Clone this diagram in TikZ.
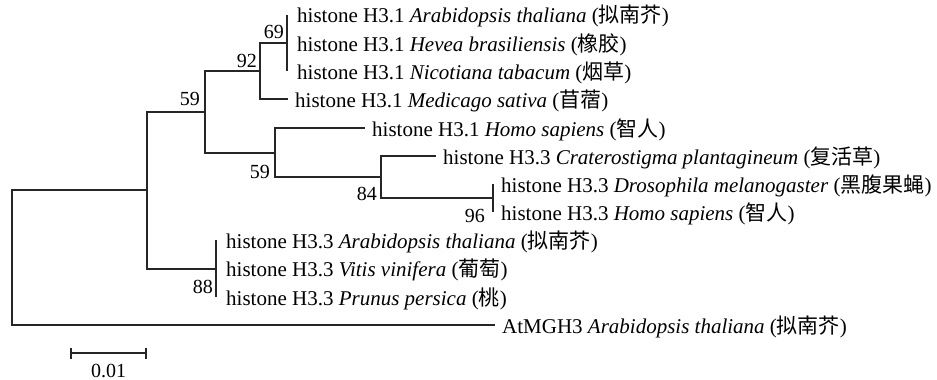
\documentclass[tikz,border=0pt]{standalone}
\usepackage{fontspec}
\setmainfont{Liberation Serif}
\newfontfamily\cjk{Noto Sans CJK SC}
\begin{document}
\begin{tikzpicture}[x=1pt,y=-1pt,
  br/.style={line width=2pt, draw=black!85, line cap=rect},
  zl/.style={line width=1.5pt, draw=black!85},
  leaf/.style={anchor=west, inner xsep=8pt, inner ysep=0pt, text height=20pt, text depth=4pt, font=\fontsize{21}{25}\selectfont},
  leafz/.style={leaf, inner xsep=10pt},
  bs/.style={anchor=base east, inner sep=0pt, font=\fontsize{20}{24}\selectfont}]
\useasboundingbox (0,0) rectangle (937,380);

% leaves
\node[leafz] (L1) at (287,15) {histone H3.1 \textit{Arabidopsis thaliana} ({\cjk 拟南芥})};
\node[leafz] (L2) at (287,43) {histone H3.1 \textit{Hevea brasiliensis} ({\cjk 橡胶})};
\node[leafz] (L3) at (287,71) {histone H3.1 \textit{Nicotiana tabacum} ({\cjk 烟草})};
\node[leaf] (L4) at (287,99) {histone H3.1 \textit{Medicago sativa} ({\cjk 苜蓿})};
\node[leaf] (L5) at (364,128) {histone H3.1 \textit{Homo sapiens} ({\cjk 智人})};
\node[leaf] (L6) at (435,156) {histone H3.3 \textit{Craterostigma plantagineum} ({\cjk 复活草})};
\node[leaf] (L7) at (493,184) {histone H3.3 \textit{Drosophila melanogaster} ({\cjk 黑腹果蝇})};
\node[leaf] (L8) at (493,212) {histone H3.3 \textit{Homo sapiens} ({\cjk 智人})};
\node[leafz] (L9) at (216,240) {histone H3.3 \textit{Arabidopsis thaliana} ({\cjk 拟南芥})};
\node[leafz] (L10) at (216,268.5) {histone H3.3 \textit{Vitis vinifera} ({\cjk 葡萄})};
\node[leafz] (L11) at (216,297) {histone H3.3 \textit{Prunus persica} ({\cjk 桃})};
\node[leaf] (L12) at (494,325) {AtMGH3 \textit{Arabidopsis thaliana} ({\cjk 拟南芥})};

% internal nodes
\coordinate (n69) at (287,43);
\coordinate (n92) at (260,71);
\coordinate (n96) at (493,198);
\coordinate (n84) at (381,177);
\coordinate (n59b) at (275,152.5);
\coordinate (nB) at (205,111.75);
\coordinate (n88) at (216,268.5);
\coordinate (nA) at (147,190.1);
\coordinate (root) at (12,257.6);

% branches
\draw[zl] (L1.west) -- (L3.west);
\draw[zl] (L7.west) -- (L8.west);
\draw[zl] (L9.west) -- (L11.west);
\draw[br] (n92) |- (n69);
\draw[br] (n92) |- (L4.west);
\draw[br] (n84) |- (L6.west);
\draw[br] (n84) |- (n96);
\draw[br] (n59b) |- (L5.west);
\draw[br] (n59b) |- (n84);
\draw[br] (nB) |- (n92);
\draw[br] (nB) |- (n59b);
\draw[br] (nA) |- (nB);
\draw[br] (nA) |- (n88);
\draw[br] (root) |- (nA);
\draw[br] (root) |- (L12.west);

% bootstrap values
\node[bs] (b69) at (284,38) {69};
\node[bs] (b92) at (257,67) {92};
\node[bs] (b59a) at (200,105) {59};
\node[bs] (b59b) at (270,178) {59};
\node[bs] (b84) at (377,200) {84};
\node[bs] (b96) at (485,222) {96};
\node[bs] (b88) at (213,293) {88};

% scale bar
\coordinate (s1) at (71,353);
\coordinate (s2) at (146,353);
\draw[br, line cap=butt] (s1) -- (s2);
\draw[zl] ([yshift=5.5pt]s1) -- ([yshift=-5.5pt]s1);
\draw[zl] ([yshift=5.5pt]s2) -- ([yshift=-5.5pt]s2);
\node[anchor=base, inner sep=0pt, font=\fontsize{20}{24}\selectfont] (sl) at (108.5,377) {0.01};
\end{tikzpicture}
\end{document}
